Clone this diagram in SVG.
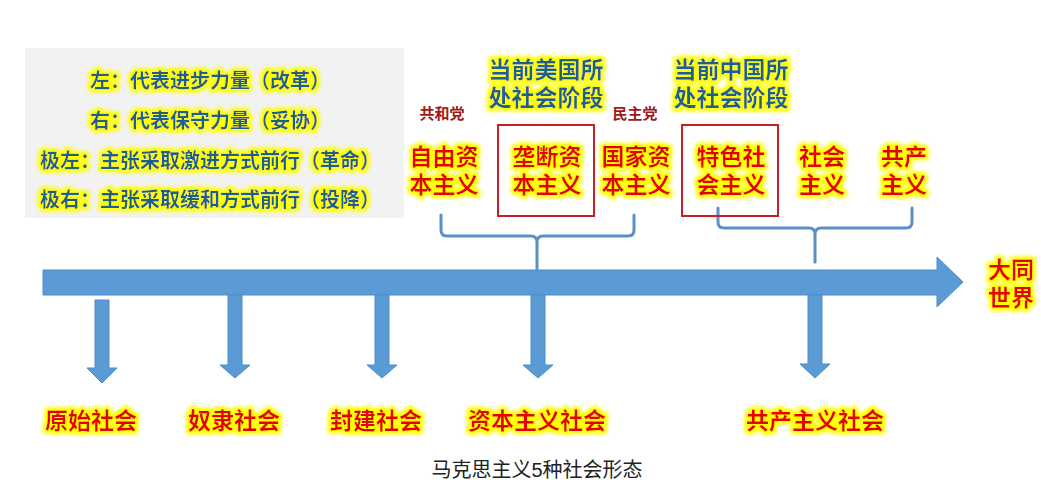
<svg xmlns="http://www.w3.org/2000/svg" width="1041" height="486" viewBox="0 0 1041 486">
<defs>
<filter id="glow" x="-20%" y="-40%" width="140%" height="180%">
<feMorphology in="SourceAlpha" operator="dilate" radius="1.6" result="d"/>
<feGaussianBlur in="d" stdDeviation="2" result="b"/>
<feFlood flood-color="#ffff00"/>
<feComposite in2="b" operator="in" result="g"/>
<feMerge><feMergeNode in="g"/><feMergeNode in="g"/><feMergeNode in="SourceGraphic"/></feMerge>
</filter>
<style>
text{font-family:"Liberation Sans","Noto Sans CJK SC",sans-serif;text-anchor:middle;dominant-baseline:central}
.red{fill:#e60000;font-weight:bold;font-size:23px;filter:url(#glow)}
.blue{fill:#1f6090;font-weight:bold;font-size:23px;filter:url(#glow)}
.note{fill:#1f5f8e;font-weight:bold;font-size:20px;filter:url(#glow)}
.party{fill:#a01818;font-weight:bold;font-size:15px}
.cap{fill:#222;font-size:20px}
.arrow{fill:#5b9bd5;stroke:#4f8cc6;stroke-width:1}
.brace{fill:none;stroke:#5b8fc7;stroke-width:3;stroke-linecap:round;stroke-linejoin:round}
.frame{fill:none;stroke:#c81e24;stroke-width:2}
</style>
</defs>
<rect x="0" y="0" width="1041" height="486" fill="#ffffff"/>

<g id="legend">
<rect x="25" y="48" width="379" height="170" fill="#f2f2f2"/>
<text class="note" x="210" y="81">左：代表进步力量（改革）</text>
<text class="note" x="210" y="121">右：代表保守力量（妥协）</text>
<text class="note" x="210" y="161">极左：主张采取激进方式前行（革命）</text>
<text class="note" x="210" y="200">极右：主张采取缓和方式前行（投降）</text>
</g>

<g id="connectors">
<polygon class="arrow" points="43,270 937,270 937,257 963,282 937,307 937,295 43,295"/>
<polygon class="arrow" points="95,300 109,300 109,368 117,368 102,383 87,368 95,368"/>
<polygon class="arrow" points="228,295 242,295 242,365 250,365 235,378 220,365 228,365"/>
<polygon class="arrow" points="375,295 389,295 389,365 397,365 382,378 367,365 375,365"/>
<polygon class="arrow" points="531,295 545,295 545,365 553,365 538,378 523,365 531,365"/>
<polygon class="arrow" points="808,295 822,295 822,364 830,364 815,378 800,364 808,364"/>
<path class="brace" d="M441,215 V230 Q441,236 447,236 H531 Q537,236 537,242 V269 M634,215 V230 Q634,236 628,236 H543 Q537,236 537,242"/>
<path class="brace" d="M718,208 V222 Q718,228 724,228 H809 Q815,228 815,234 V262 M912,208 V222 Q912,228 906,228 H821 Q815,228 815,234"/>
</g>

<g id="us-stage">
<text class="blue" x="546" y="70">当前美国所<tspan x="546" dy="28">处社会阶段</tspan></text>
</g>
<g id="cn-stage">
<text class="blue" x="731" y="70">当前中国所<tspan x="731" dy="28">处社会阶段</tspan></text>
</g>
<g id="republican"><text class="party" x="442" y="113">共和党</text></g>
<g id="democrat"><text class="party" x="635" y="113">民主党</text></g>

<g id="free-capitalism">
<text class="red" x="444" y="157">自由资<tspan x="444" dy="28">本主义</tspan></text>
</g>
<g id="monopoly-capitalism">
<rect class="frame" x="498" y="125" width="96" height="91"/>
<text class="red" x="547" y="157">垄断资<tspan x="547" dy="28">本主义</tspan></text>
</g>
<g id="state-capitalism">
<text class="red" x="636" y="157">国家资<tspan x="636" dy="28">本主义</tspan></text>
</g>
<g id="characteristic-socialism">
<rect class="frame" x="682" y="125" width="96" height="91"/>
<text class="red" x="731" y="157">特色社<tspan x="731" dy="28">会主义</tspan></text>
</g>
<g id="socialism">
<text class="red" x="822" y="157">社会<tspan x="822" dy="28">主义</tspan></text>
</g>
<g id="communism">
<text class="red" x="904" y="157">共产<tspan x="904" dy="28">主义</tspan></text>
</g>
<g id="datong">
<text class="red" x="1011" y="270">大同<tspan x="1011" dy="28">世界</tspan></text>
</g>

<g id="primitive"><text class="red" x="91" y="421">原始社会</text></g>
<g id="slave"><text class="red" x="234" y="421">奴隶社会</text></g>
<g id="feudal"><text class="red" x="376" y="421">封建社会</text></g>
<g id="capitalist"><text class="red" x="537" y="421">资本主义社会</text></g>
<g id="communist"><text class="red" x="815" y="421">共产主义社会</text></g>

<g id="caption"><text class="cap" x="537" y="470">马克思主义5种社会形态</text></g>
</svg>
